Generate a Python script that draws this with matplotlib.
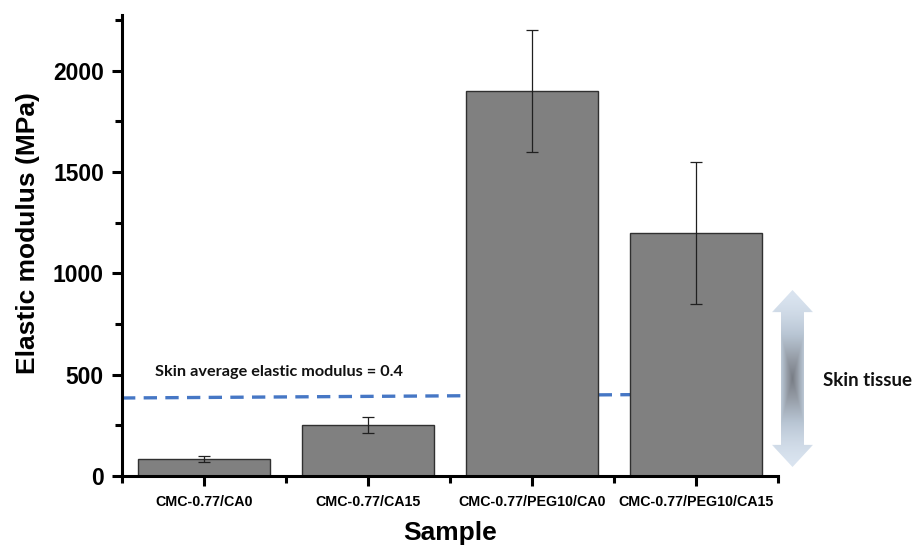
import numpy as np
import matplotlib
matplotlib.use('Agg')
import matplotlib.pyplot as plt
from matplotlib.patches import Polygon
from matplotlib.colors import LinearSegmentedColormap
from matplotlib.ticker import MultipleLocator, FixedLocator

# 数据
samples = ['CMC-0.77/CA0', 'CMC-0.77/CA15', 'CMC-0.77/PEG10/CA0', 'CMC-0.77/PEG10/CA15']
modulus = [85, 250, 1900, 1200]
modulus_err = [15, 40, 300, 350]
skin_line_x = [-0.5, 2.9]
skin_line_y = [385, 403]

plt.rcParams['font.family'] = ['Liberation Sans', 'DejaVu Sans']
plt.rcParams['font.weight'] = 'bold'

fig = plt.figure(figsize=(9.19, 5.47), dpi=100)
ax = fig.add_axes([122 / 919, 71 / 547, 656 / 919, 461 / 547])

x = np.arange(len(samples))

# 虚线 (皮肤平均弹性模量)
ax.plot(skin_line_x, skin_line_y, color='#4677C5', linewidth=2.4,
        dashes=(4, 2.5), zorder=1)

# 柱状图
ax.bar(x, modulus, width=0.8, color='#808080', edgecolor='#303030',
       linewidth=1.0, zorder=2)
ax.errorbar(x, modulus, yerr=modulus_err, fmt='none', ecolor='#202020',
            elinewidth=0.9, capsize=4, capthick=0.9, zorder=3)

ax.set_xlim(-0.5, 3.5)
ax.set_ylim(0, 2275)

# 坐标轴样式
for side in ['top', 'right']:
    ax.spines[side].set_visible(False)
for side in ['left', 'bottom']:
    ax.spines[side].set_linewidth(2.2)

ax.set_xticks(x)
ax.set_xticklabels(samples)
ax.xaxis.set_minor_locator(FixedLocator([-0.5, 0.5, 1.5, 2.5, 3.5]))
ax.yaxis.set_major_locator(MultipleLocator(500))
ax.yaxis.set_minor_locator(MultipleLocator(250))
ax.tick_params(axis='both', which='major', direction='out', length=7, width=2.2, pad=6)
ax.tick_params(axis='both', which='minor', direction='out', length=5, width=2.2)
ax.tick_params(axis='y', which='major', labelsize=16.5)
ax.tick_params(axis='x', which='major', labelsize=10.3, pad=7)

ax.set_ylabel('Elastic modulus (MPa)', fontsize=19, fontweight='bold')
ax.yaxis.set_label_coords(-0.125, 0.527)
ax.set_xlabel('Sample', fontsize=19, fontweight='bold', labelpad=8)

# 注释文字
ax.text(155, 547 - 372, 'Skin average elastic modulus = 0.4', transform=None,
        fontsize=11.7, fontweight='bold', family=['Lato', 'DejaVu Sans'],
        va='center', ha='left', color='#111111')
fig.text(823 / 919, 1 - 380 / 547, 'Skin tissue', fontsize=13.5, fontweight='bold',
         family=['Lato', 'DejaVu Sans'], va='center', ha='left', color='#111111')

# 渐变双向箭头
aax = fig.add_axes([772 / 919, 80 / 547, 41 / 919, 177 / 547])
aax.set_xlim(0, 1)
aax.set_ylim(0, 1)
aax.axis('off')
hl = 0.125
sw = 0.22
verts = [(0.5, 1), (1, 1 - hl), (1 - sw, 1 - hl), (1 - sw, hl), (1, hl), (0.5, 0),
         (0, hl), (sw, hl), (sw, 1 - hl), (0, 1 - hl)]
poly = Polygon(verts, closed=True, facecolor='none', edgecolor='none')
aax.add_patch(poly)
gy, gx = np.mgrid[0:1:400j, 0:1:80j]
t = np.maximum(np.abs(gy - 0.5) * 2, np.abs(gx - 0.5) * 2 * 0.9)
dark = np.clip(1 - t, 0, 1) ** 1.6
cmap = LinearSegmentedColormap.from_list('arr', ['#DAE4F0', '#B8C5D3', '#959CA6', '#777C84'])
im = aax.imshow(dark, extent=[0, 1, 0, 1], origin='lower', cmap=cmap, vmin=0, vmax=1,
                aspect='auto', interpolation='bilinear')
im.set_clip_path(poly)

fig.savefig('out.png', dpi=100)
